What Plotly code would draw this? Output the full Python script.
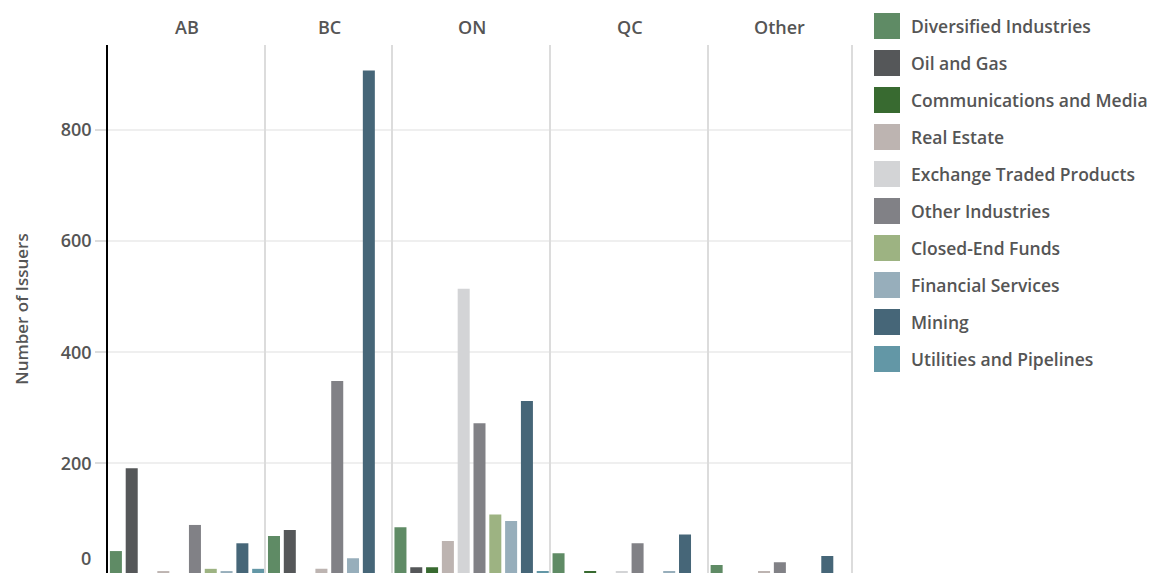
import plotly.graph_objects as go
from plotly.subplots import make_subplots

provinces = ['AB', 'BC', 'ON', 'QC', 'Other']

sectors = ['Diversified Industries', 'Oil and Gas', 'Communications and Media', 'Real Estate',
           'Exchange Traded Products', 'Other Industries', 'Closed-End Funds', 'Financial Services',
           'Mining', 'Utilities and Pipelines']

colors = ['#5f8b65', '#555759', '#386a30', '#bdb4b1', '#d3d4d6',
          '#818186', '#9db382', '#97aebb', '#466678', '#6397a6']

# None = sector not present in that province (no slot in the facet)
ab_values = [42, 191, 0, 6, 0, 89, 10, 6, 56, 10]
bc_values = [69, 80, 0, 10, None, 348, None, 29, 907, 0]
on_values = [85, 13, 13, 60, 514, 272, 108, 96, 312, 6]
qc_values = [38, 0, 6, 0, 6, 56, 0, 6, 72, 0]
other_values = [17, 0, 0, 6, None, 22, 0, 0, 33, 0]

province_values = [ab_values, bc_values, on_values, qc_values, other_values]

W, H = 1154, 573
L, R, T, B = 108, 303, 45, 0
FONT = 'Open Sans'
GREY = '#555555'

slot_counts = [sum(v is not None for v in vals) for vals in province_values]

fig = make_subplots(rows=1, cols=5, column_widths=slot_counts, horizontal_spacing=0,
                    shared_yaxes=True, subplot_titles=provinces)

for i, vals in enumerate(province_values):
    xs = [s for s, v in zip(sectors, vals) if v is not None]
    ys = [v for v in vals if v is not None]
    cs = [c for c, v in zip(colors, vals) if v is not None]
    fig.add_trace(go.Bar(x=xs, y=ys, marker_color=cs, marker_line_width=0,
                         showlegend=False, name=provinces[i]), row=1, col=i + 1)

fig.update_xaxes(showticklabels=False, showgrid=False, zeroline=False, showline=False, ticks='')
fig.update_yaxes(range=[2.5, 953], tickvals=[0, 200, 400, 600, 800], showgrid=True,
                 gridcolor='#efefef', gridwidth=2, zeroline=False,
                 showline=True, linecolor='#dcdcdc', linewidth=2, ticks='')
fig.update_yaxes(row=1, col=1, linecolor='#000000', linewidth=1.5, ticks='outside', ticklen=11,
                 tickcolor='#dddddd', tickwidth=1.5,
                 tickfont=dict(family=FONT, size=18, color=GREY, weight=600),
                 title=dict(text='Number of Issuers', standoff=28,
                            font=dict(family=FONT, size=17, color=GREY, weight=600)))
fig.update_yaxes(row=1, col=5, mirror=True)

fig.update_annotations(font=dict(family=FONT, size=18, color=GREY, weight=600), yshift=4)


def px_x(px):
    return (px - L) / (W - L - R)


def px_y(py):
    return (H - B - py) / (H - T - B)


# the zero label sits just above the cut-off bottom edge
fig.add_annotation(text='0', xref='paper', yref='paper', x=0, y=px_y(572), xanchor='right',
                   yanchor='bottom', xshift=-15, showarrow=False,
                   font=dict(family=FONT, size=18, color=GREY, weight=600))

# legend with large square swatches
for i, (s, c) in enumerate(zip(sectors, colors)):
    cy = 26 + 37 * i
    fig.add_shape(type='rect', xref='paper', yref='paper', x0=px_x(874), x1=px_x(900),
                  y0=px_y(cy + 13), y1=px_y(cy - 13), fillcolor=c, line_width=0)
    fig.add_annotation(text=s, xref='paper', yref='paper', x=px_x(909), y=px_y(cy),
                       xanchor='left', yanchor='middle', showarrow=False,
                       font=dict(family=FONT, size=17.5, color=GREY, weight=600))

fig.update_layout(
    width=W, height=H,
    margin=dict(l=L, r=R, t=T, b=B),
    paper_bgcolor='white',
    plot_bgcolor='white',
    bargap=0.24,
    font=dict(family=FONT, color=GREY),
)

fig.write_html('out.html', config={'displayModeBar': False},
               post_script="document.body.style.margin='0px';")
